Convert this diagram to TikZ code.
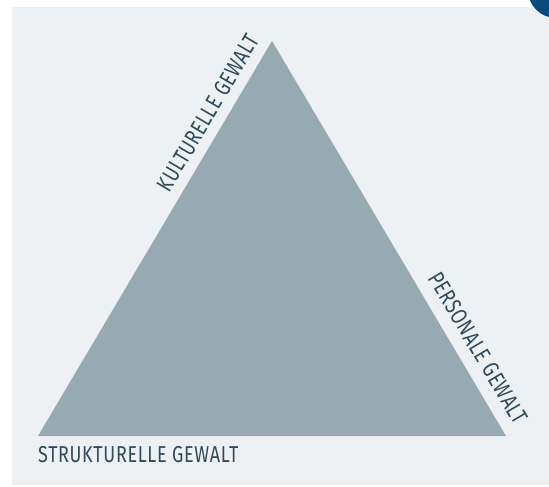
\documentclass[tikz,border=0pt]{standalone}
\usepackage{fontspec}
\usepackage[HTML]{xcolor}
\usepackage{tikz}
\usetikzlibrary{calc}
\newfontfamily\handfont[FakeStretch=0.78,LetterSpace=3]{Fira Sans}
\definecolor{panelbg}{HTML}{EEF1F4}
\definecolor{triangfill}{HTML}{97A9B2}
\definecolor{labelink}{HTML}{2E4B5A}
\definecolor{cornerdot}{HTML}{0B4A7A}

\begin{document}
\begin{tikzpicture}[x=1pt,y=-1pt]
\tikzset{gewaltlabel/.style={text=labelink,font=\handfont\fontsize{23}{23}\selectfont,inner sep=0pt}}
\useasboundingbox (0,0) rectangle (549,487);
\fill[white] (0,0) rectangle (549,487);
\fill[panelbg] (12,7) rectangle (549,485);
\coordinate (A) at (38,436);
\coordinate (B) at (506,436);
\coordinate (C) at (272,41);
\fill[triangfill] (A)--(B)--(C)--cycle;
\fill[cornerdot] (556,-10) circle (28);
\node[gewaltlabel,anchor=north west] (strukt) at (38,446) {STRUKTURELLE GEWALT};
\node[gewaltlabel,rotate=59.4] (kultur) at (208,113) {KULTURELLE GEWALT};
\node[gewaltlabel,rotate=-59.4] (person) at (478,348) {PERSONALE GEWALT};
\end{tikzpicture}
\end{document}
